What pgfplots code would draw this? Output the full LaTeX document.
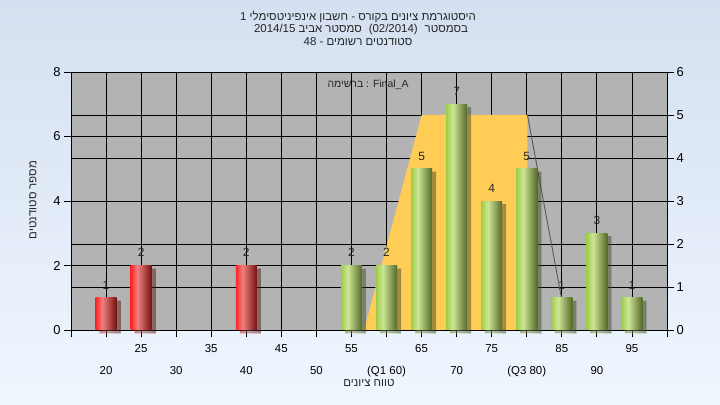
\documentclass[border=0pt]{standalone}
\usepackage{fontspec}
\setmainfont{Liberation Sans}
\newfontfamily\heb[Script=Hebrew]{Liberation Sans}
\TeXXeTstate=1
\usepackage{pgfplots}
\pgfplotsset{compat=1.18}
\usetikzlibrary{shadows}

\definecolor{bgtop}{RGB}{212,224,241}
\definecolor{bgbot}{RGB}{239,246,254}
\definecolor{plotbg}{RGB}{179,179,179}
\definecolor{boxyel}{RGB}{255,204,86}
\definecolor{ra}{RGB}{255,35,35}
\definecolor{rb}{RGB}{240,128,128}
\definecolor{rc}{RGB}{118,16,16}
\definecolor{ga}{RGB}{158,204,72}
\definecolor{gb}{RGB}{205,230,150}
\definecolor{gc}{RGB}{84,104,40}

\pgfdeclarehorizontalshading{redbar}{100bp}{color(0bp)=(ra); color(25bp)=(ra); color(41bp)=(rb); color(75bp)=(rc); color(100bp)=(rc)}
\pgfdeclarehorizontalshading{greenbar}{100bp}{color(0bp)=(ga); color(25bp)=(ga); color(41bp)=(gb); color(75bp)=(gc); color(100bp)=(gc)}

\pgfplotsset{
  barbase/.style={ybar, bar width=3, bar shift=0pt, draw=none, shade,
    drop shadow={shadow xshift=4bp, shadow yshift=-3bp, opacity=0.28, fill=black}},
  redb/.style={barbase, shading=redbar},
  greenb/.style={barbase, shading=greenbar},
}

\begin{document}
\begin{tikzpicture}
\shade[top color=bgtop, bottom color=bgbot] (0bp,0bp) rectangle (720bp,405bp);

% back axis (right scale, grid, box area)
\begin{axis}[
  at={(71bp,75bp)}, anchor=south west,
  scale only axis, width=596bp, height=258bp,
  xmin=15, xmax=100, ymin=0, ymax=6,
  axis background/.style={fill=plotbg},
  xtick={15,20,...,100}, xticklabels={},
  ytick={0,1,...,6},
  xtick pos=left, ytick pos=right, yticklabel pos=right,
  tick align=outside, major tick length=7bp,
  tick style={black, line width=0.8pt},
  grid=major, major grid style={black, line width=0.8pt},
  extra y ticks={1.5,3,4.5}, extra y tick labels={},
  extra y tick style={major tick length=0pt},
  axis line style={black, line width=0.8pt},
  /pgf/number format/assume math mode=true,
  yticklabel style={font=\fontsize{13}{14}\selectfont, xshift=-1bp},
]
\addplot[fill=boxyel, draw=none] coordinates {(56.8,0) (65,5) (80.1,5) (80.1,0)} \closedcycle;
\addplot[color=black!65, line width=0.9pt] coordinates {(80.1,5) (85.8,0)};
\end{axis}

% front axis (left scale, bars)
\begin{axis}[
  at={(71bp,75bp)}, anchor=south west,
  scale only axis, width=596bp, height=258bp,
  xmin=15, xmax=100, ymin=0, ymax=8,
  clip=false,
  xtick={25,35,...,95},
  extra x ticks={20,30,40,50,60,70,80,90},
  extra x tick labels={20,30,40,50,{(Q1 60)},70,{(Q3 80)},90},
  extra x tick style={xticklabel style={yshift=-22bp}},
  ytick={0,2,...,8},
  xtick pos=left, ytick pos=left,
  tick align=outside, major tick length=7bp,
  tick style={black, line width=0.8pt},
  axis line style={black, line width=0.8pt},
  /pgf/number format/assume math mode=true,
  yticklabel style={font=\fontsize{13}{14}\selectfont},
  xticklabel style={font=\fontsize{11.5}{13}\selectfont, yshift=-4bp},
  nodes near coords,
  every node near coord/.append style={font=\fontsize{12}{13}\selectfont, text=black!85, yshift=5bp},
]
\addplot[redb] coordinates {(20,1)};
\addplot[redb] coordinates {(25,2)};
\addplot[redb] coordinates {(40,2)};
\addplot[greenb] coordinates {(55,2)};
\addplot[greenb] coordinates {(60,2)};
\addplot[greenb] coordinates {(65,5)};
\addplot[greenb] coordinates {(70,7)};
\addplot[greenb] coordinates {(75,4)};
\addplot[greenb] coordinates {(80,5)};
\addplot[greenb] coordinates {(85,1)};
\addplot[greenb] coordinates {(90,3)};
\addplot[greenb] coordinates {(95,1)};
\end{axis}

% texts
\node[font=\fontsize{11.5}{13}\selectfont\heb, text=black!85] at (358bp,388bp)
  {\beginR היסטוגרמת ציונים בקורס - חשבון אינפיניטסימלי 1\endR};
\node[font=\fontsize{11.5}{13}\selectfont\heb, text=black!85] at (361bp,375bp)
  {\beginR בסמסטר\hspace{0.6em}\beginL(02/2014)\endL\hspace{0.6em}סמסטר אביב \beginL 2014/15\endL\endR};
\node[font=\fontsize{11.5}{13}\selectfont\heb, text=black!85] at (358bp,363bp)
  {\beginR סטודנטים רשומים - \beginL 48\endL\endR};
\node[font=\fontsize{10.5}{12}\selectfont\heb, text=black!85] at (368bp,320bp)
  {\beginR ברשימה\endR{} : Final\_A};
\node[font=\fontsize{11.5}{13}\selectfont\heb, text=black!85] at (369bp,22bp)
  {\beginR טווח ציונים\endR};
\node[font=\fontsize{11.5}{13}\selectfont\heb, text=black!85, rotate=90] at (33bp,205bp)
  {\beginR מספר סטודנטים\endR};
\end{tikzpicture}
\end{document}
